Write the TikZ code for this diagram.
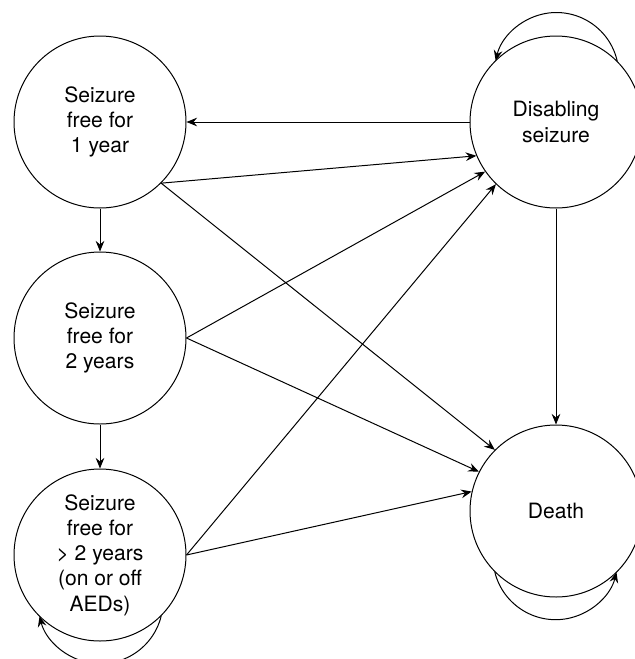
\documentclass[tikz,border=0pt]{standalone}
\usepackage{fontspec}
\setmainfont{TeX Gyre Heros}
\usepackage{tikz}
\usetikzlibrary{arrows.meta}

\tikzset{state/.style={draw, circle, minimum size=5.16cm, inner sep=0pt, align=center, font=\fontsize{18}{21.5}\selectfont}}

\begin{document}
\begin{tikzpicture}[line width=0.85pt, >={Stealth[length=3.2mm,width=2.6mm,inset=1.1mm]}]
	
	\useasboundingbox (0,0) rectangle (19.05,-19.77);
	
	\node[state] (s1) at (3,-3.66) {Seizure\\free for\\1 year};
	
	\node[state] (s2) at (3,-10.14) {Seizure\\free for\\2 years};
	
	\node[state] (s3) at (3,-16.65) {Seizure\\free for\\> 2 years\\(on or off\\AEDs)};
	
	\node[state] (dis) at (16.68,-3.66) {Disabling\\seizure};
	
	\node[state] (death) at (16.68,-15.33) {Death};
	
	\draw[->] (dis) -- (s1);
	\draw[->] (s1) -- (s2);
	\draw[->] (s2) -- (s3);
	\draw[->] (dis) -- (death);
	\draw[->] (s1.-45) -- (dis.203);
	\draw[->] (s1.-45) -- (death.135);
	\draw[->] (s2.east) -- (dis.215);
	\draw[->] (s2.east) -- (death.153);
	\draw[->] (s3.east) -- (dis.226);
	\draw[->] (s3.east) -- (death.167);
	
	% self loops
	\draw[->] (dis.45) arc[start angle=13, end angle=167, radius=1.87];
	\draw[->] (death.-135) arc[start angle=194, end angle=346, radius=1.88];
	\draw[->] (s3.-45) arc[start angle=-14, end angle=-166, radius=1.88];
	
\end{tikzpicture}
\end{document}
